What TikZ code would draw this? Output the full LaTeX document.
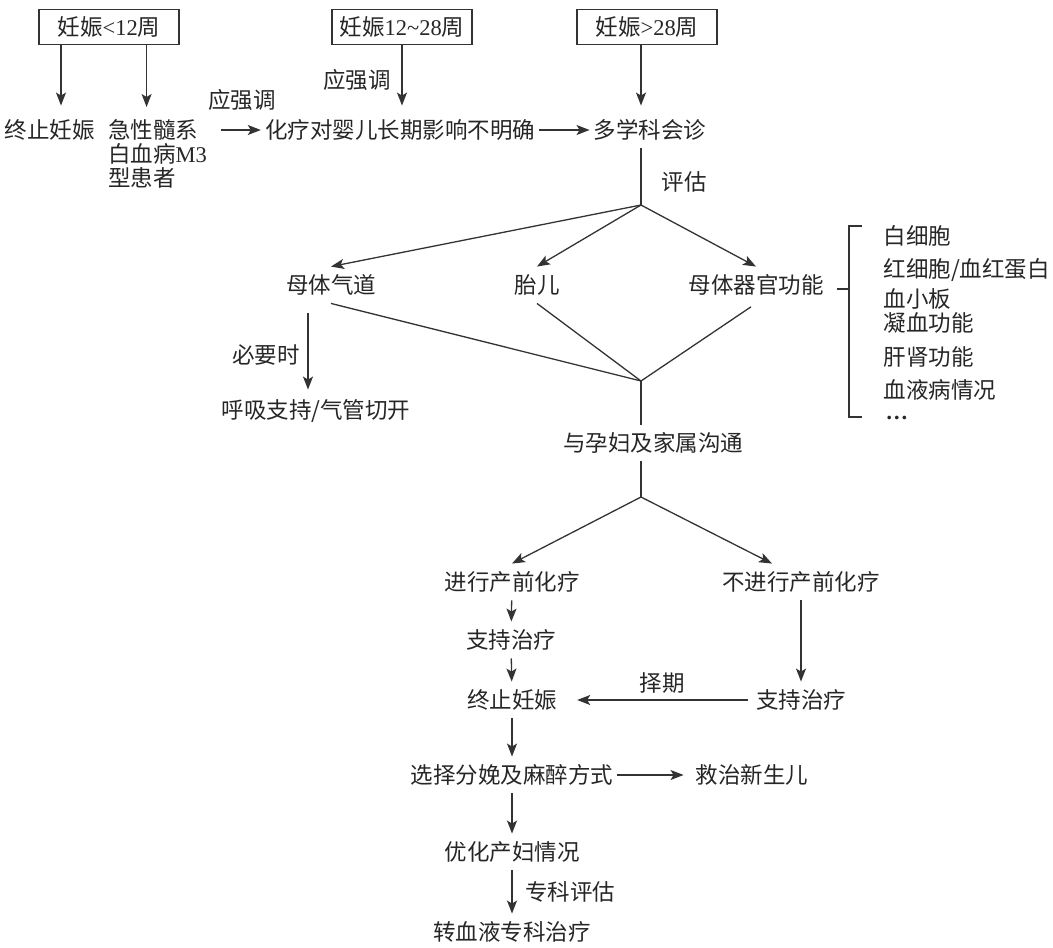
\documentclass[tikz,border=0pt]{standalone}
\usepackage{fontspec}
\setmainfont{Noto Sans CJK SC}
\newfontfamily\lat{Liberation Serif}
\usetikzlibrary{arrows.meta,positioning}

\begin{document}
\begin{tikzpicture}[x=1pt,y=-1pt,
    every node/.style={font=\fontsize{22.5}{24}\selectfont,text=black!85},
    txt/.style={inner xsep=4pt,inner ysep=7pt,text height=19.5pt,text depth=3pt},
    box/.style={txt,draw=black!80,line width=1.3pt,minimum width=140pt,inner ysep=6.5pt},
    ln/.style={line width=1.3pt,color=black!80},
    arr/.style={ln,-{Stealth[length=13pt,width=10pt,inset=3pt]}}]
    \useasboundingbox (0,0) rectangle (1053,948);

    % Gestation boxes
    \node[box] (lt12) at (109,27) {妊娠{\lat <12}周};
    \node[box] (mid) at (402,27) {妊娠{\lat 12\textasciitilde 28}周};
    \node[box] (gt28) at (647,27) {妊娠{\lat >28}周};

    \node[txt] (stop1) at (50,130) {终止妊娠};
    \node[inner sep=0pt,anchor=north west,align=left] (aml) at (108,119) {急性髓系\\白血病{\lat M3}\\型患者};
    \node[txt] (chemo) at (400,130) {化疗对婴儿长期影响不明确};
    \node[txt] (mdt) at (650,130) {多学科会诊};
    \node (emph1) at (242,100) {应强调};
    \node (emph2) at (357,80) {应强调};
    \coordinate (a1) at ([xshift=11pt]stop1.north);
    \coordinate (a3) at ([xshift=-11pt]aml.north);
    \coordinate (split1) at (641,205);

    \path[arr]
        (a1 |- lt12.south) edge[shorten >=6pt] (a1)
        (a3 |- lt12.south) edge[shorten >=12pt] (a3)
        (mid.south) edge[shorten >=6pt] (mid.south |- chemo.north)
        (gt28.south -| split1) edge[shorten >=6pt] (split1 |- mdt.north)
        (aml.east |- chemo) edge[shorten <=14pt] (chemo.west)
        (chemo) edge (mdt);

    % Assessment
    \node (assess) at (684,182) {评估};
    \node[txt] (airway) at (331,285) {母体气道};
    \node[txt] (fetus) at (537,285) {胎儿};
    \node[txt] (organ) at (756,285) {母体器官功能};
    \node[txt] (resp) at (316,410) {呼吸支持/气管切开};
    \node (need) at (266,355) {必要时};
    \coordinate (a2) at ([xshift=-23pt]airway.south);

    \draw[ln] (mdt.south -| split1) -- (split1);
    \path[arr]
        (split1) edge (airway.north)
        (split1) edge (fetus.north)
        (split1) edge (organ.north)
        (a2) edge[shorten <=10pt,shorten >=2pt] (a2 |- resp.north);

    % Organ function list
    \coordinate (brtop) at (862,226);
    \coordinate (brbot) at (862,417);
    \coordinate (brmid) at (849,289);
    \draw[ln] (brtop) -| ([xshift=-13pt]brbot) -- (brbot);
    \draw[ln,shorten <=9pt] (brmid -| organ.east) -- (brmid);
    \node[anchor=west] (wbc) at (880,236) {白细胞};
    \node[anchor=west] (rbc) at (880,270) {红细胞/血红蛋白};
    \node[anchor=west] (plt) at (880,299) {血小板};
    \node[anchor=west] (coag) at (880,323) {凝血功能};
    \node[anchor=west] (liver) at (880,357) {肝肾功能};
    \node[anchor=west] (hema) at (880,390) {血液病情况};
    \node[anchor=west] (more) at (882,418) {\lat\textbf{\textellipsis}};

    % Communication
    \coordinate (meet) at (641,381);
    \coordinate (split2) at (641,497);
    \node[txt] (talk) at (653,443) {与孕妇及家属沟通};
    \draw[ln] (airway.south) -- (meet);
    \draw[ln] (fetus.south) -- (meet);
    \draw[ln,shorten <=6pt] (organ.south) -- (meet);
    \draw[ln] (meet) -- (meet |- talk.north);
    \draw[ln] (talk.south -| split2) -- (split2);

    % Treatment branches
    \node[txt] (prechemo) at (512,582) {进行产前化疗};
    \node[txt] (nochemo) at (801,582) {不进行产前化疗};
    \node[txt] (supp1) at (511,640) {支持治疗};
    \node[txt] (stop2) at (512,700) {终止妊娠};
    \node[txt] (supp2) at (801,700) {支持治疗};
    \node (elect) at (662,683) {择期};
    \node[txt] (deliv) at (512,775) {选择分娩及麻醉方式};
    \node[txt] (neo) at (752,775) {救治新生儿};
    \node[txt] (optim) at (512,852) {优化产妇情况};
    \node (spec) at (570,892) {专科评估};
    \node[txt] (transfer) at (512,932) {转血液专科治疗};

    \path[arr]
        (split2) edge (prechemo.north)
        (split2) edge ([xshift=-29pt]nochemo.north)
        (prechemo) edge (supp1)
        (supp1) edge (stop2)
        (nochemo) edge (supp2)
        (supp2) edge[shorten <=4pt,shorten >=16pt] (stop2)
        (stop2) edge (deliv)
        (deliv) edge[shorten >=8pt] (neo)
        (deliv) edge (optim)
        (optim) edge (transfer);
\end{tikzpicture}
\end{document}
